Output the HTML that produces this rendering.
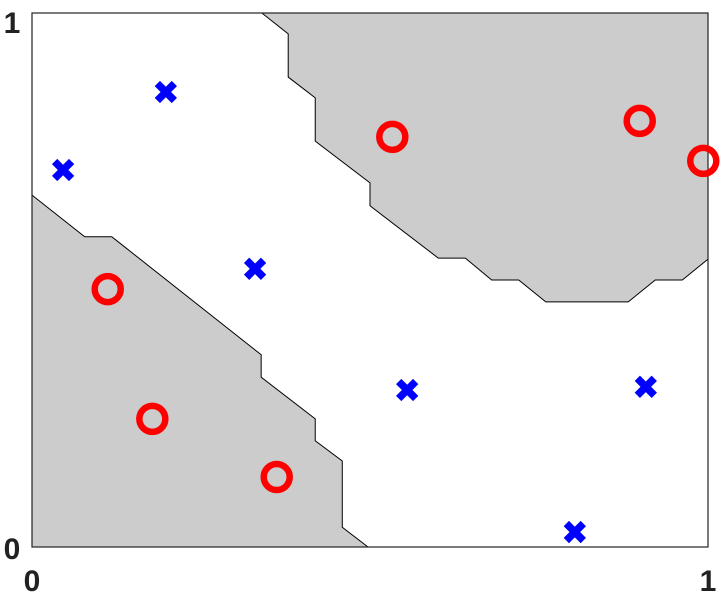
<!DOCTYPE html>
<html><head><meta charset="utf-8"><style>
body{margin:0;background:#fff}
svg text{font-family:"Liberation Sans",sans-serif;font-weight:bold;font-size:30px;fill:#222}
</style></head><body>
<svg id="c" width="722" height="596"></svg>
<script>
const blueX=[0.198,0.046,0.330,0.555,0.908,0.803];
const blueY=[0.852,0.706,0.521,0.294,0.300,0.028];
const redX=[0.533,0.899,0.993,0.112,0.178,0.362];
const redY=[0.768,0.798,0.723,0.483,0.240,0.131];
const lowerX=[0,0.078,0.118,0.339,0.339,0.419,0.419,0.459,0.459,0.497,0];
const lowerY=[0.659,0.581,0.581,0.360,0.318,0.240,0.199,0.161,0.037,0,0];
const upperX=[0.340,0.379,0.379,0.419,0.419,0.5,0.5,0.601,0.641,0.680,0.720,0.760,0.882,0.922,0.962,1,1];
const upperY=[1,0.961,0.880,0.841,0.760,0.682,0.639,0.541,0.541,0.5,0.5,0.459,0.459,0.5,0.5,0.539,1];
const xTicks=["0","1"], yTicks=["0","1"];
const L=32,R=708,T=13,B=547;
const sx=v=>L+v*(R-L), sy=v=>B-v*(B-T);
const svg=document.getElementById('c');const NS='http://www.w3.org/2000/svg';
function mk(t,a){const e=document.createElementNS(NS,t);for(const k in a)e.setAttribute(k,a[k]);svg.appendChild(e);return e;}
function poly(xs,ys,name){const e=mk('polygon',{points:xs.map((x,i)=>sx(x)+','+sy(ys[i])).join(' '),fill:'#cccccc',stroke:'#000','stroke-width':1});

}
poly(lowerX,lowerY,'lower-region');
poly(upperX,upperY,'upper-region');
const box=mk('rect',{x:L,y:T,width:R-L,height:B-T,fill:'none',stroke:'#222','stroke-width':1.2});


blueX.forEach((x,i)=>{const cx=sx(x),cy=sy(blueY[i]),d=8.5;
const g=mk('path',{d:`M${cx-d},${cy-d}L${cx+d},${cy+d}M${cx-d},${cy+d}L${cx+d},${cy-d}`,stroke:'#0000ff','stroke-width':7.5});

});
redX.forEach((x,i)=>{const c=mk('circle',{cx:sx(x),cy:sy(redY[i]),r:13,fill:'none',stroke:'#ff0000','stroke-width':6.5});

});
xTicks.forEach((t,i)=>{const e=mk('text',{x:sx(i),y:591,'text-anchor':'middle'});e.textContent=t;

});
yTicks.forEach((t,i)=>{const e=mk('text',{x:12,y:sy(i)+(i?20:12),'text-anchor':'middle'});e.textContent=t;

});
</script>
</body></html>
